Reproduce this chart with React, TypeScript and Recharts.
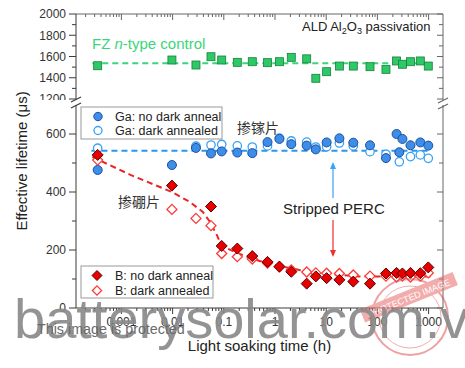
import React from 'react';
import { ComposedChart, Scatter, Line, XAxis, YAxis } from 'recharts';

// ---- data ----
const times = [
  0.000344, 0.0097, 0.0286, 0.0562, 0.091, 0.1835, 0.36, 0.714, 1.22, 2.08, 4.16, 6.27,
  10.2, 18.1, 33.8, 71.7, 147, 237, 268, 308, 443, 689, 986,
];
const fzControl = [
  1513, 1567, 1520, 1598, 1567, 1545, 1551, 1542, 1551, 1592, 1578, 1395,
  1457, 1510, 1510, 1504, 1479, 1558, null, 1527, 1551, 1558, 1510,
];
const gaNoAnneal = [
  476, 493, 552, 533, 540, 536, 534, 572, 583, 565, 560, 547,
  571, 585, 570, 561, 517, 600, 537, 583, 561, 571, 560,
];
const gaAnnealed = [
  551, null, 558, 562, 564, 559, 555, 559, 586, 576, 572, 555,
  556, 569, 559, 539, 530, null, 504, null, 522, 528, 516,
];
const bNoAnneal = [
  528, 422, null, 350, 214, 205, 179, 159, 143, 125, 84, 109,
  103, 97, 91, 84, 119, 121, null, 119, 121, 120, 140,
];
const bAnnealed = [
  510, 340, 309, 284, 188, 177, 169, 155, 141, 131, 124, 121,
  120, 119, 114, 110, 110, 107, null, 110, 107, 110, 121,
];
const fzFitT = [0.00027, 1100];
const fzFitV = [1536, 1536];
const gaFitT = [0.00026, 1100];
const gaFitV = [542, 542];
const bFitT = [0.00027, 0.0015, 0.0097, 0.022, 0.039, 0.0535, 0.073, 0.091, 0.205, 0.5, 1.22, 3.0, 7.3, 17.9, 43.7, 1100];
const bFitV = [521, 459, 400, 365, 331, 297, 252, 214, 186, 162, 145, 131, 121, 114, 109, 109];

const xMajorTicks = [0.001, 0.01, 0.1, 1, 10, 100, 1000];
const xTickLabels = ['0.001', '0.01', '0.1', '1', '10', '100', '1000'];
const topYLabels = [1200, 1400, 1600, 1800, 2000];
const topYAll = [1200, 1300, 1400, 1500, 1600, 1700, 1800, 1900, 2000];
const botYLabels = [0, 200, 400, 600];
const botYAll = [0, 100, 200, 300, 400, 500, 600];

// ---- layout ----
const W = 465;
const H = 368;
const PL = 76;
const PR = 443;
const TOP_T = 14;
const TOP_B = 99;
const BOT_T = 105;
const BOT_B = 308;
const X_DOMAIN: [number, number] = [Math.pow(10, (PL - 275) / 51.2), Math.pow(10, (PR - 275) / 51.2)];
const FONT = '"Liberation Sans", Arial, sans-serif';
const CJK = '"Noto Sans CJK SC", sans-serif';
const AXIS = '#3a3a3a';
const AXIS_R = '#666';

const GREEN = '#3ad57a';
const BLUE_FILL = '#3d8ee8';
const BLUE_EDGE = '#1f4f9f';
const BLUE_OPEN = '#3aa2f2';
const BLUE_LINE = '#2797f0';
const RED_FILL = '#e80000';
const RED_EDGE = '#5a0000';
const RED_OPEN = '#ff3838';
const RED_LINE = '#ea2424';

const series = (vals: (number | null)[]) =>
  times.map((t, i) => ({ t, v: vals[i] })).filter((d) => d.v !== null);
const fit = (ts: number[], vs: number[]) => ts.map((t, i) => ({ t, v: vs[i] }));

const xAllTicks: number[] = (() => {
  const out: number[] = [];
  for (let d = -4; d <= 3; d++) {
    for (let k = 1; k <= 9; k++) {
      const v = k * Math.pow(10, d);
      if (v >= X_DOMAIN[0] && v <= X_DOMAIN[1]) out.push(Number(v.toPrecision(6)));
    }
  }
  return out;
})();

const majorIndex = (v: number) =>
  xMajorTicks.findIndex((m) => Math.abs(Math.log10(m) - Math.log10(v)) < 1e-6);

// ---- tick renderers ----
const TopXTick = (p: any) => {
  const { x, y, payload } = p;
  const major = majorIndex(payload.value) >= 0;
  return <line x1={x} x2={x} y1={y} y2={y + (major ? 6 : 3)} stroke={AXIS_R} strokeWidth={1} />;
};

const BottomXTick = (p: any) => {
  const { x, y, payload } = p;
  const idx = majorIndex(payload.value);
  const major = idx >= 0;
  return (
    <g>
      <line x1={x} x2={x} y1={y} y2={y + (major ? 6 : 3)} stroke={AXIS} strokeWidth={1} />
      {major && (
        <text x={x} y={y + 18} textAnchor="middle" fontSize={12} fontFamily={FONT} fill="#333">
          {xTickLabels[idx]}
        </text>
      )}
    </g>
  );
};

const makeYTick = (labels: number[]) => (p: any) => {
  const { x, y, payload } = p;
  const major = labels.includes(payload.value);
  return (
    <g>
      <line x1={x - (major ? 7 : 4)} x2={x} y1={y} y2={y} stroke={AXIS} strokeWidth={1} />
      <line x1={PR - (major ? 6 : 4)} x2={PR} y1={y} y2={y} stroke={AXIS_R} strokeWidth={1} />
      {major && (
        <text x={x - 10} y={y} dy="0.36em" textAnchor="end" fontSize={12} fontFamily={FONT} fill="#333">
          {payload.value}
        </text>
      )}
    </g>
  );
};

// ---- marker shapes ----
const Square = (p: any) => (
  <rect x={p.cx - 4} y={p.cy - 4} width={8} height={8} fill="#2ec866" stroke="#15803d" strokeWidth={0.8} />
);
const FilledCircle = (p: any) => (
  <circle cx={p.cx} cy={p.cy} r={4.5} fill={BLUE_FILL} stroke={BLUE_EDGE} strokeWidth={1} />
);
const OpenCircle = (p: any) => (
  <circle cx={p.cx} cy={p.cy} r={4.2} fill="#fff" stroke={BLUE_OPEN} strokeWidth={1.3} />
);
const diamondPts = (cx: number, cy: number, r: number) =>
  `${cx},${cy - r} ${cx + r},${cy} ${cx},${cy + r} ${cx - r},${cy}`;
const FilledDiamond = (p: any) => (
  <polygon points={diamondPts(p.cx, p.cy, 5.5)} fill={RED_FILL} stroke={RED_EDGE} strokeWidth={1} />
);
const OpenDiamond = (p: any) => (
  <polygon points={diamondPts(p.cx, p.cy, 5)} fill="#fff" stroke={RED_OPEN} strokeWidth={1.3} />
);

const Arrow = ({ x, y1, y2, color }: { x: number; y1: number; y2: number; color: string }) => {
  const dir = y2 > y1 ? 1 : -1;
  return (
    <g>
      <line x1={x} x2={x} y1={y1} y2={y2 - dir * 6} stroke={color} strokeWidth={1.2} />
      <polygon points={`${x},${y2} ${x - 3},${y2 - dir * 7} ${x + 3},${y2 - dir * 7}`} fill={color} />
    </g>
  );
};

export default function App() {
  return (
    <div style={{ position: 'absolute', left: 0, top: 0, width: W, height: H, background: '#fff' }}>
      {/* upper panel: FZ control */}
      <div style={{ position: 'absolute', left: 0, top: 0 }}>
        <ComposedChart width={W} height={TOP_B + 1} margin={{ top: TOP_T - 1, right: W - PR, bottom: 1, left: 0 }}>
          <XAxis
            orientation="top"
            type="number"
            dataKey="t"
            scale="log"
            domain={X_DOMAIN}
            allowDataOverflow
            ticks={xAllTicks}
            interval={0}
            height={1}
            tickSize={0}
            tickMargin={0}
            tickLine={false}
            axisLine={{ stroke: AXIS_R }}
            tick={TopXTick}
          />
          <YAxis
            type="number"
            dataKey="v"
            domain={[1200, 2000]}
            allowDataOverflow
            ticks={topYAll}
            interval={0}
            width={PL}
            tickSize={0}
            tickMargin={0}
            tickLine={false}
            axisLine={{ stroke: AXIS }}
            tick={makeYTick(topYLabels)}
          />
          <Line data={fit(fzFitT, fzFitV)} dataKey="v" type="linear" stroke={GREEN} strokeWidth={2} strokeDasharray="6 4" dot={false} isAnimationActive={false} />
          <Scatter data={series(fzControl)} dataKey="v" shape={Square} isAnimationActive={false} />
        </ComposedChart>
      </div>

      {/* lower panel: Ga and B */}
      <div style={{ position: 'absolute', left: 0, top: 0 }}>
        <ComposedChart width={W} height={H} margin={{ top: BOT_T, right: W - PR, bottom: H - BOT_B - 30, left: 0 }}>
          <XAxis
            type="number"
            dataKey="t"
            scale="log"
            domain={X_DOMAIN}
            allowDataOverflow
            ticks={xAllTicks}
            interval={0}
            height={30}
            tickSize={0}
            tickMargin={0}
            tickLine={false}
            axisLine={{ stroke: AXIS }}
            tick={BottomXTick}
          />
          <YAxis
            type="number"
            dataKey="v"
            domain={[0, 700]}
            allowDataOverflow
            ticks={botYAll}
            interval={0}
            width={PL}
            tickSize={0}
            tickMargin={0}
            tickLine={false}
            axisLine={{ stroke: AXIS }}
            tick={makeYTick(botYLabels)}
          />
          <Line data={fit(gaFitT, gaFitV)} dataKey="v" type="linear" stroke={BLUE_LINE} strokeWidth={2} strokeDasharray="6 4" dot={false} isAnimationActive={false} />
          <Line data={fit(bFitT, bFitV)} dataKey="v" type="linear" stroke={RED_LINE} strokeWidth={2} strokeDasharray="6 4" dot={false} isAnimationActive={false} />
          <Scatter data={series(gaAnnealed)} dataKey="v" shape={OpenCircle} isAnimationActive={false} />
          <Scatter data={series(gaNoAnneal)} dataKey="v" shape={FilledCircle} isAnimationActive={false} />
          <Scatter data={series(bAnnealed)} dataKey="v" shape={OpenDiamond} isAnimationActive={false} />
          <Scatter data={series(bNoAnneal)} dataKey="v" shape={FilledDiamond} isAnimationActive={false} />
        </ComposedChart>
      </div>

      {/* frame, legends, annotations, watermark */}
      <svg width={W} height={H} style={{ position: 'absolute', left: 0, top: 0, pointerEvents: 'none' }}>
        {/* right frame */}
        <line x1={PR} x2={PR} y1={TOP_T} y2={TOP_B + 1} stroke={AXIS_R} />
        <line x1={PR} x2={PR} y1={BOT_T} y2={BOT_B} stroke={AXIS_R} />
        {/* break marks */}
        <line x1={71} y1={102} x2={81} y2={97} stroke={AXIS} strokeWidth={1.2} />
        <line x1={71} y1={108} x2={81} y2={103} stroke={AXIS} strokeWidth={1.2} />
        <line x1={438} y1={103} x2={448} y2={98} stroke={AXIS_R} strokeWidth={1.2} />
        <line x1={438} y1={109} x2={448} y2={104} stroke={AXIS_R} strokeWidth={1.2} />

        {/* axis titles */}
        <text x={259.5} y={351} textAnchor="middle" fontSize={15} fontFamily={FONT} fill="#222">
          Light soaking time (h)
        </text>
        <text x={27} y={161} textAnchor="middle" fontSize={15} fontFamily={FONT} fill="#222" transform="rotate(-90 27 161)">
          Effective lifetime (μs)
        </text>

        {/* annotations */}
        <text x={302} y={30.5} fontSize={13} fontFamily={FONT} fill="#222">
          ALD Al<tspan fontSize={9} dy={3}>2</tspan>
          <tspan dy={-3}>O</tspan>
          <tspan fontSize={9} dy={3}>3</tspan>
          <tspan dy={-3}> passivation</tspan>
        </text>
        <text x={92} y={48.7} fontSize={15} fontFamily={FONT} fill={GREEN}>
          FZ <tspan fontStyle="italic">n</tspan>-type control
        </text>
        <text x={237} y={133} fontSize={14} fontFamily={CJK} fill="#333">
          掺镓片
        </text>
        <text x={118} y={207} fontSize={14} fontFamily={CJK} fill="#333">
          掺硼片
        </text>
        <text x={283} y={213.5} fontSize={15} fontFamily={FONT} fill="#222">
          Stripped PERC
        </text>
        <Arrow x={333} y1={198} y2={162} color={BLUE_OPEN} />
        <Arrow x={333} y1={220} y2={257} color="#ee3030" />

        {/* Ga legend */}
        <rect x={81} y={107} width={141} height={32} fill="#fff" stroke="#999" strokeWidth={1} />
        <circle cx={98} cy={116.5} r={4.2} fill={BLUE_FILL} stroke={BLUE_EDGE} />
        <circle cx={98} cy={130.5} r={4} fill="#fff" stroke={BLUE_OPEN} strokeWidth={1.3} />
        <text x={115} y={120.8} fontSize={12.5} fontFamily={FONT} fill="#222">Ga: no dark anneal</text>
        <text x={115} y={134.8} fontSize={12.5} fontFamily={FONT} fill="#222">Ga: dark annealed</text>

        {/* B legend */}
        <rect x={81} y={266} width={132} height={32} fill="#fff" stroke="#999" strokeWidth={1} />
        <polygon points={diamondPts(97, 275.5, 5)} fill={RED_FILL} stroke={RED_EDGE} />
        <polygon points={diamondPts(97, 290.5, 4.6)} fill="#fff" stroke={RED_OPEN} strokeWidth={1.3} />
        <text x={115} y={279.8} fontSize={12.5} fontFamily={FONT} fill="#222">B: no dark anneal</text>
        <text x={115} y={294.8} fontSize={12.5} fontFamily={FONT} fill="#222">B: dark annealed</text>

        {/* watermark */}
        <g opacity={0.55}>
          <circle cx={410} cy={317} r={38} fill="none" stroke="#e05555" strokeWidth={2} />
          <circle cx={410} cy={317} r={31} fill="none" stroke="#e07070" strokeWidth={1} />
          <g transform="rotate(-22 410 300)">
            <rect x={360} y={290} width={100} height={14} fill="#e86a6a" />
            <text x={410} y={301} textAnchor="middle" fontSize={9} fontFamily={FONT} fill="#fff">
              PROTECTED IMAGE
            </text>
          </g>
        </g>
        <text x={14} y={338} fontSize={56} fontFamily={FONT} fill="#8a8a8a" fillOpacity={0.92}>
          batterysolar.com.vn
        </text>
        <text x={37} y={334} fontSize={14.3} fontFamily={FONT} fill="#6a6a6a">
          This image is protected
        </text>
      </svg>
    </div>
  );
}
